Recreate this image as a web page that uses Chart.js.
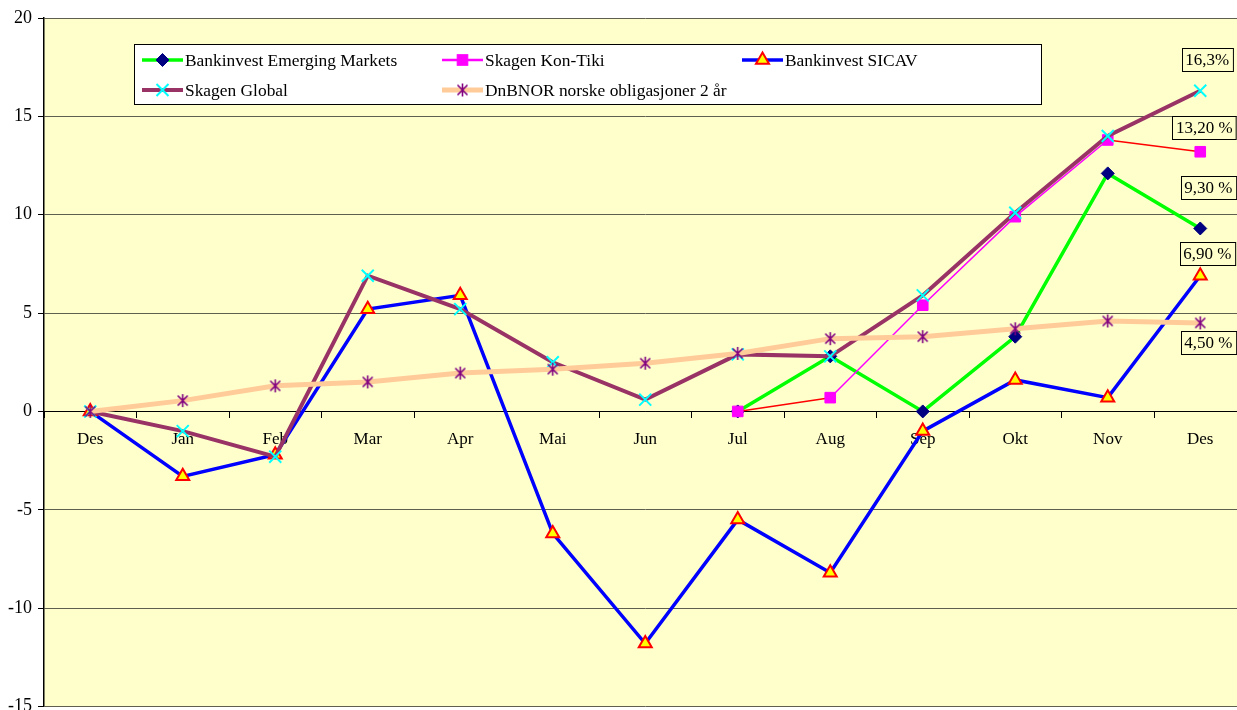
<!DOCTYPE html>
<html><head><meta charset="utf-8">
<script src="https://cdn.jsdelivr.net/npm/chart.js@4/dist/chart.umd.min.js"></script>
<style>html,body{margin:0;padding:0;background:#fff;overflow:hidden;}#wrap{position:relative;width:1257px;height:717px;}</style>
</head><body><div id="wrap"><canvas id="c" width="1257" height="717"></canvas></div>
<script>
// ---- data ----
const categories = ['Des','Jan','Feb','Mar','Apr','Mai','Jun','Jul','Aug','Sep','Okt','Nov','Des'];
const seriesNames = ['Bankinvest Emerging Markets','Skagen Kon-Tiki','Bankinvest SICAV','Skagen Global','DnBNOR norske obligasjoner 2 år'];
const emergingMarkets = [null,null,null,null,null,null,null,0,2.8,0,3.8,12.1,9.3];
const konTiki = [null,null,null,null,null,null,null,0,0.7,5.4,9.9,13.8,13.2];
const sicav = [0,-3.3,-2.2,5.2,5.9,-6.2,-11.8,-5.5,-8.2,-1.0,1.6,0.7,6.9];
const skagenGlobal = [0,-1.0,-2.3,6.9,5.2,2.5,0.6,2.9,2.8,5.9,10.1,14.0,16.3];
const dnbnor = [0,0.55,1.3,1.5,1.95,2.15,2.45,2.95,3.7,3.8,4.2,4.6,4.5];
const endLabels = ['9,30 %','13,20 %','6,90 %','16,3%','4,50 %'];
const yMin = -15, yMax = 20, yStep = 5;

// ---- styles ----
const FONT_FAMILY = '"Liberation Serif","Times New Roman",serif';
const FONT = '17px ' + FONT_FAMILY;
const LEGEND_FONT = '17.4px ' + FONT_FAMILY;
const labelOffsets = [[8,-41],[4,-24],[7,-22],[7,-31],[8,20]];

function asteriskCanvas(){
  const c = document.createElement('canvas'); c.width = 15; c.height = 15;
  const g = c.getContext('2d'); g.strokeStyle = '#800080'; g.lineWidth = 1.6;
  g.beginPath();
  g.moveTo(2.5,2.5); g.lineTo(12.5,12.5);
  g.moveTo(12.5,2.5); g.lineTo(2.5,12.5);
  g.moveTo(7.5,1); g.lineTo(7.5,14);
  g.stroke();
  return c;
}
const asterisk = asteriskCanvas();

const styles = [
  {line:'#00FF00', width:3.5, ps:'rectRot', r:6.5, fill:'#000080', stroke:'#000080', bw:1},
  {line:'#FF00FF', width:1.5, ps:'rect', r:7.5, fill:'#FF00FF', stroke:'#FF00FF', bw:1},
  {line:'#0000FF', width:3.5, ps:'triangle', r:7.5, fill:'#FFFF00', stroke:'#FF0000', bw:2},
  {line:'#993366', width:4, ps:'crossRot', r:8.5, fill:'#00FFFF', stroke:'#00FFFF', bw:2},
  {line:'#FFCC99', width:5, ps:asterisk, r:7, fill:'#800080', stroke:'#800080', bw:1.5}
];
const seriesData = [emergingMarkets, konTiki, sicav, skagenGlobal, dnbnor];

const datasets = seriesData.map((d,i)=>{
  const s = styles[i];
  const ds = {
    label: seriesNames[i], data: d,
    borderColor: s.line, borderWidth: s.width,
    pointStyle: s.ps, pointRadius: s.r, pointHoverRadius: s.r,
    pointBackgroundColor: s.fill, pointBorderColor: s.stroke, pointBorderWidth: s.bw,
    tension: 0, fill: false, spanGaps: false,
    order: 5 - i
  };
  if (i === 1) {
    ds.segment = { borderColor: ctx => (ctx.p0DataIndex === 7 || ctx.p0DataIndex === 11) ? '#FF0000' : '#FF00FF' };
  }
  return ds;
});

const bgPlugin = {
  id:'bg',
  beforeDraw(chart){
    const {ctx, chartArea:a} = chart;
    ctx.save(); ctx.fillStyle = '#FFFFCC';
    ctx.fillRect(a.left, a.top, a.right - a.left, a.bottom - a.top);
    ctx.restore();
  }
};

const labelPlugin = {
  id:'endLabels',
  afterDatasetsDraw(chart){
    const ctx = chart.ctx;
    ctx.save();
    ctx.font = FONT; ctx.textAlign = 'center'; ctx.textBaseline = 'middle';
    chart.data.datasets.forEach((ds,i)=>{
      const meta = chart.getDatasetMeta(i);
      const el = meta.data[meta.data.length - 1];
      const x = el.x + labelOffsets[i][0], y = el.y + labelOffsets[i][1];
      const t = endLabels[i];
      const w = ctx.measureText(t).width + 7, h = 23;
      const bx = Math.round(x - w/2) + 0.5, by = Math.round(y - h/2) + 0.5;
      ctx.fillStyle = '#FFFFCC'; ctx.fillRect(bx, by, w, h);
      ctx.strokeStyle = '#000'; ctx.lineWidth = 1; ctx.strokeRect(bx, by, w, h);
      ctx.fillStyle = '#000'; ctx.fillText(t, x, y + 1);
    });
    ctx.restore();
  }
};

function drawMarker(ctx, i, x, y){
  const s = styles[i];
  ctx.save();
  ctx.fillStyle = s.fill; ctx.strokeStyle = s.stroke; ctx.lineWidth = s.bw;
  const r = s.r;
  if (s.ps === 'rectRot') {
    ctx.beginPath(); ctx.moveTo(x, y - r); ctx.lineTo(x + r, y); ctx.lineTo(x, y + r); ctx.lineTo(x - r, y); ctx.closePath(); ctx.fill(); ctx.stroke();
  } else if (s.ps === 'rect') {
    const h = r * Math.SQRT1_2; ctx.fillRect(x - h, y - h, 2*h, 2*h); ctx.strokeRect(x - h, y - h, 2*h, 2*h);
  } else if (s.ps === 'triangle') {
    ctx.beginPath();
    ctx.moveTo(x, y - r); ctx.lineTo(x + Math.sin(2*Math.PI/3)*r, y + r/2); ctx.lineTo(x - Math.sin(2*Math.PI/3)*r, y + r/2);
    ctx.closePath(); ctx.fill(); ctx.stroke();
  } else if (s.ps === 'crossRot') {
    const h = r * Math.SQRT1_2; ctx.beginPath();
    ctx.moveTo(x - h, y - h); ctx.lineTo(x + h, y + h); ctx.moveTo(x + h, y - h); ctx.lineTo(x - h, y + h); ctx.stroke();
  } else {
    ctx.drawImage(asterisk, x - asterisk.width/2, y - asterisk.height/2);
  }
  ctx.restore();
}

const legendLayout = [[142,60],[442,60],[742,60],[142,90],[442,90]];
const legendPlugin = {
  id:'boxLegend',
  afterDraw(chart){
    const ctx = chart.ctx;
    ctx.save();
    ctx.fillStyle = '#FFFFFF'; ctx.fillRect(134.5, 44.5, 907, 60);
    ctx.strokeStyle = '#000'; ctx.lineWidth = 1; ctx.strokeRect(134.5, 44.5, 907, 60);
    ctx.font = LEGEND_FONT; ctx.textAlign = 'left'; ctx.textBaseline = 'middle';
    seriesNames.forEach((n,i)=>{
      const [x,y] = legendLayout[i];
      const s = styles[i];
      ctx.strokeStyle = s.line; ctx.lineWidth = Math.max(s.width, 2.5);
      ctx.beginPath(); ctx.moveTo(x, y); ctx.lineTo(x + 41, y); ctx.stroke();
      drawMarker(ctx, i, x + 20.5, y);
      ctx.fillStyle = '#000'; ctx.fillText(n, x + 43, y + 1);
    });
    ctx.restore();
  }
};

new Chart(document.getElementById('c'), {
  type:'line',
  data:{ labels: categories, datasets },
  plugins:[bgPlugin, labelPlugin, legendPlugin],
  options:{
    responsive:false, animation:false, devicePixelRatio:1,
    layout:{ padding:{ top:18, right:0, bottom:0, left:0 } },
    plugins:{ legend:{display:false}, tooltip:{enabled:false} },
    scales:{
      x:{
        type:'category', position:{ y:0 }, offset:true,
        grid:{ drawOnChartArea:false, drawTicks:true, tickLength:6, tickColor:'#000', offset:true },
        border:{ display:true, color:'#000', width:1 },
        ticks:{ autoSkip:false, maxRotation:0, minRotation:0, padding:12, color:'#000', font:{ family:FONT_FAMILY, size:17 } },
        afterFit(scale){ scale.paddingLeft = 0; scale.paddingRight = 0; }
      },
      y:{
        min:yMin, max:yMax,
        ticks:{ stepSize:yStep, padding:6, color:'#000', font:{ family:FONT_FAMILY, size:18 } },
        grid:{ color: c => c.tick && c.tick.value === 0 ? '#000' : '#5f5f50', lineWidth:1, tickLength:6, tickColor:'#000' },
        border:{ display:true, color:'#000', width:1.5 },
        afterFit(scale){ scale.width = 44; scale.paddingTop = 0; scale.paddingBottom = 0; }
      }
    }
  }
});
</script></body></html>
